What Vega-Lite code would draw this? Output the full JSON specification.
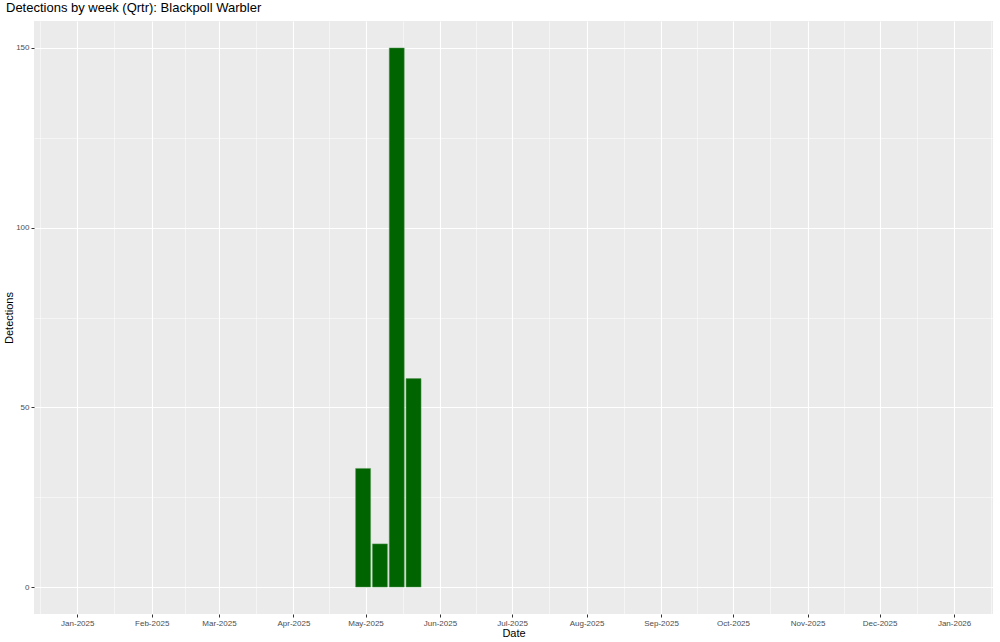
{
  "$schema": "https://vega.github.io/schema/vega-lite/v6.json",
  "autosize": "none",
  "width": 959,
  "height": 593,
  "padding": {"left": 34, "top": 21, "right": 7, "bottom": 28},
  "background": "white",
  "title": {"text": "Detections by week (Qrtr): Blackpoll Warbler", "anchor": "start", "frame": "group", "dx": -28, "fontSize": 13, "fontWeight": "normal", "font": "Liberation Sans", "color": "black", "offset": 6},
  "data": {"values": [
    {"week": "2025-04-30", "detections": 33},
    {"week": "2025-05-07", "detections": 12},
    {"week": "2025-05-14", "detections": 150},
    {"week": "2025-05-21", "detections": 58}
  ]},
  "mark": {"type": "bar", "width": 15, "fill": "#006400", "stroke": "#5a9a5a", "strokeWidth": 0.5},
  "encoding": {
    "x": {
      "field": "week", "type": "temporal", "title": "Date",
      "scale": {"type": "utc", "nice": false, "padding": 0, "domain": [
        {"year": 2024, "month": 12, "date": 14, "hours": 0, "utc": true},
        {"year": 2026, "month": 1, "date": 17, "hours": 5, "utc": true}
      ]},
      "axis": {
        "values": [
          {"year": 2024, "month": 12, "date": 16, "hours": 12, "utc": true},
          {"year": 2025, "month": 1, "date": 1, "utc": true},
          {"year": 2025, "month": 1, "date": 16, "hours": 12, "utc": true},
          {"year": 2025, "month": 2, "date": 1, "utc": true},
          {"year": 2025, "month": 2, "date": 15, "utc": true},
          {"year": 2025, "month": 3, "date": 1, "utc": true},
          {"year": 2025, "month": 3, "date": 16, "hours": 12, "utc": true},
          {"year": 2025, "month": 4, "date": 1, "utc": true},
          {"year": 2025, "month": 4, "date": 16, "utc": true},
          {"year": 2025, "month": 5, "date": 1, "utc": true},
          {"year": 2025, "month": 5, "date": 16, "hours": 12, "utc": true},
          {"year": 2025, "month": 6, "date": 1, "utc": true},
          {"year": 2025, "month": 6, "date": 16, "utc": true},
          {"year": 2025, "month": 7, "date": 1, "utc": true},
          {"year": 2025, "month": 7, "date": 16, "hours": 12, "utc": true},
          {"year": 2025, "month": 8, "date": 1, "utc": true},
          {"year": 2025, "month": 8, "date": 16, "hours": 12, "utc": true},
          {"year": 2025, "month": 9, "date": 1, "utc": true},
          {"year": 2025, "month": 9, "date": 16, "utc": true},
          {"year": 2025, "month": 10, "date": 1, "utc": true},
          {"year": 2025, "month": 10, "date": 16, "hours": 12, "utc": true},
          {"year": 2025, "month": 11, "date": 1, "utc": true},
          {"year": 2025, "month": 11, "date": 16, "utc": true},
          {"year": 2025, "month": 12, "date": 1, "utc": true},
          {"year": 2025, "month": 12, "date": 16, "hours": 12, "utc": true},
          {"year": 2026, "month": 1, "date": 1, "utc": true},
          {"year": 2026, "month": 1, "date": 16, "hours": 12, "utc": true}
        ],
        "labelExpr": "utcdate(datum.value) == 1 ? utcFormat(datum.value, '%b-%Y') : ''",
        "labelOverlap": false,
        "labelFlush": false,
        "labelFont": "Liberation Sans", "labelFontSize": 8, "labelColor": "#4d4d4d", "labelPadding": 2,
        "tickColor": "#333333", "tickSize": 3, "tickWidth": 1,
        "tickOpacity": {"condition": {"test": "utcdate(datum.value) == 1", "value": 1}, "value": 0},
        "grid": true, "gridColor": "white",
        "gridWidth": {"condition": {"test": "utcdate(datum.value) == 1", "value": 1.1}, "value": 0.5},
        "domain": false,
        "titleFont": "Liberation Sans", "titleFontSize": 11, "titleFontWeight": "normal", "titleColor": "black", "titlePadding": 0
      }
    },
    "y": {
      "field": "detections", "type": "quantitative", "title": "Detections",
      "scale": {"domain": [-7.5, 157.5], "nice": false, "zero": false},
      "axis": {
        "values": [0, 25, 50, 75, 100, 125, 150],
        "labelExpr": "datum.value % 50 == 0 ? datum.label : ''",
        "labelFont": "Liberation Sans", "labelFontSize": 8, "labelColor": "#4d4d4d", "labelPadding": 2,
        "tickColor": "#333333", "tickSize": 3, "tickWidth": 1,
        "tickOpacity": {"condition": {"test": "datum.value % 50 == 0", "value": 1}, "value": 0},
        "grid": true, "gridColor": "white",
        "gridWidth": {"condition": {"test": "datum.value % 50 == 0", "value": 1.1}, "value": 0.5},
        "domain": false,
        "titleFont": "Liberation Sans", "titleFontSize": 11, "titleFontWeight": "normal", "titleColor": "black", "titlePadding": 1
      }
    }
  },
  "config": {
    "view": {"fill": "#EBEBEB", "stroke": null}
  }
}
